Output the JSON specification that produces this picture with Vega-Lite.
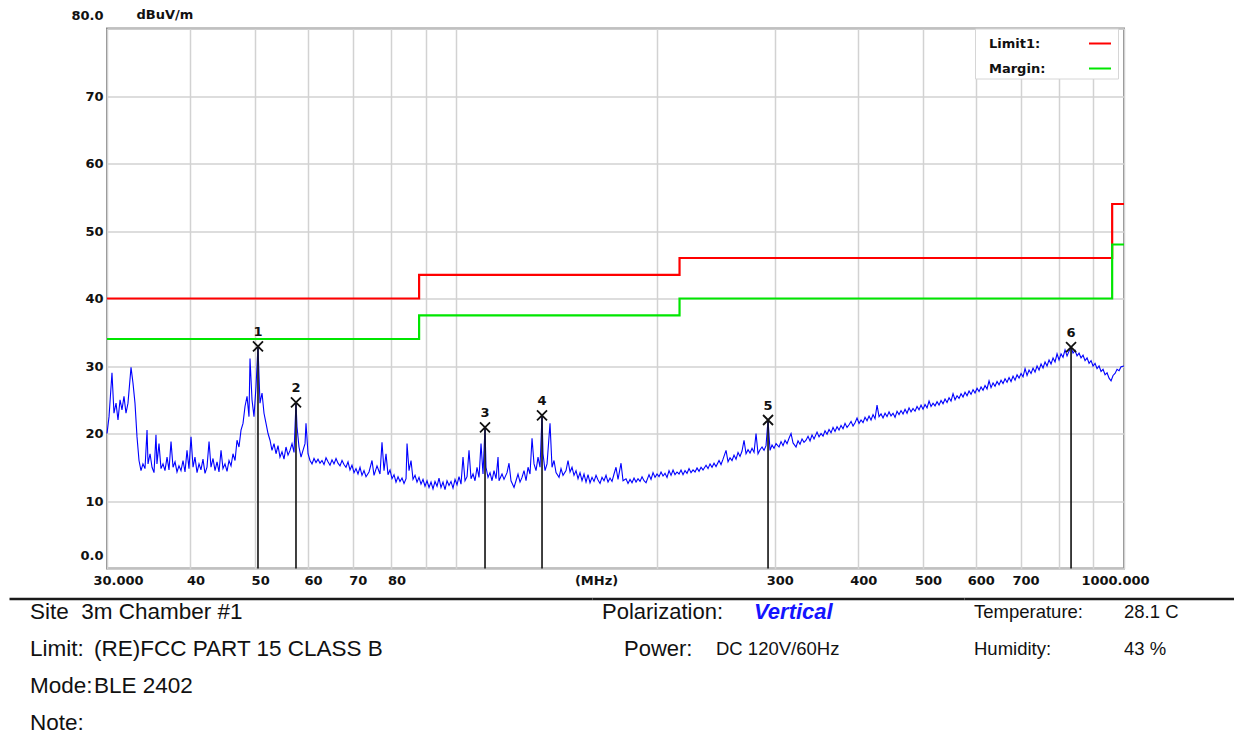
{
  "$schema": "https://vega.github.io/schema/vega-lite/v6.json",
  "padding": {"left": 9, "top": 7.5, "right": 0, "bottom": 0},
  "background": "white",
  "config": {"view": {"stroke": null}, "font": "Liberation Sans"},
  "datasets": {
    "trace": [
{"f":30.00,"v":20.0},{"f":30.21,"v":22.5},{"f":30.52,"v":29.0},{"f":30.73,"v":23.0},{"f":30.95,"v":24.5},{"f":31.16,"v":22.0},{"f":31.38,"v":25.0},{"f":31.59,"v":23.5},{"f":31.81,"v":25.5},{"f":32.03,"v":23.0},{"f":32.25,"v":24.5},{"f":32.59,"v":29.8},{"f":32.81,"v":27.5},{"f":33.04,"v":24.5},{"f":33.27,"v":19.5},{"f":33.50,"v":16.0},{"f":33.73,"v":14.5},{"f":33.96,"v":15.5},{"f":34.20,"v":14.8},{"f":34.44,"v":20.5},{"f":34.56,"v":15.5},{"f":34.80,"v":17.0},{"f":35.04,"v":15.0},{"f":35.28,"v":14.2},{"f":35.52,"v":19.8},{"f":35.64,"v":15.5},{"f":35.89,"v":18.5},{"f":36.14,"v":14.8},{"f":36.39,"v":15.5},{"f":36.64,"v":14.5},{"f":36.90,"v":16.5},{"f":37.15,"v":14.6},{"f":37.41,"v":18.8},{"f":37.67,"v":15.0},{"f":37.93,"v":15.8},{"f":38.19,"v":14.3},{"f":38.45,"v":15.2},{"f":38.72,"v":14.5},{"f":38.99,"v":16.0},{"f":39.26,"v":14.3},{"f":39.53,"v":17.5},{"f":39.80,"v":14.8},{"f":40.08,"v":19.5},{"f":40.36,"v":15.0},{"f":40.63,"v":16.5},{"f":40.92,"v":14.2},{"f":41.20,"v":15.5},{"f":41.48,"v":14.6},{"f":41.77,"v":16.2},{"f":42.06,"v":14.1},{"f":42.35,"v":15.0},{"f":42.65,"v":18.8},{"f":42.94,"v":15.0},{"f":43.24,"v":16.3},{"f":43.54,"v":14.5},{"f":43.84,"v":15.8},{"f":44.14,"v":14.3},{"f":44.45,"v":17.5},{"f":44.75,"v":14.8},{"f":45.06,"v":15.5},{"f":45.38,"v":14.4},{"f":45.69,"v":16.0},{"f":46.01,"v":15.2},{"f":46.32,"v":17.0},{"f":46.65,"v":16.0},{"f":46.97,"v":19.0},{"f":47.29,"v":18.0},{"f":47.62,"v":20.5},{"f":47.95,"v":21.5},{"f":48.28,"v":24.0},{"f":48.62,"v":25.5},{"f":48.95,"v":22.5},{"f":49.12,"v":31.1},{"f":49.46,"v":25.0},{"f":49.80,"v":22.5},{"f":50.15,"v":27.0},{"f":50.49,"v":32.9},{"f":50.84,"v":24.5},{"f":51.20,"v":26.0},{"f":51.55,"v":23.0},{"f":51.91,"v":21.5},{"f":52.27,"v":20.0},{"f":52.63,"v":19.0},{"f":52.99,"v":17.5},{"f":53.36,"v":18.5},{"f":53.73,"v":17.0},{"f":54.10,"v":18.2},{"f":54.47,"v":16.5},{"f":54.85,"v":17.3},{"f":55.23,"v":16.2},{"f":55.61,"v":18.0},{"f":56.00,"v":16.8},{"f":56.39,"v":17.5},{"f":56.78,"v":18.5},{"f":57.17,"v":17.2},{"f":57.56,"v":24.6},{"f":57.76,"v":21.0},{"f":58.16,"v":18.0},{"f":58.57,"v":16.5},{"f":58.97,"v":17.5},{"f":59.38,"v":18.5},{"f":59.58,"v":21.5},{"f":60.00,"v":17.0},{"f":60.41,"v":16.0},{"f":60.83,"v":15.5},{"f":61.25,"v":16.3},{"f":61.67,"v":15.7},{"f":62.10,"v":16.2},{"f":62.53,"v":15.6},{"f":62.96,"v":16.0},{"f":63.40,"v":15.4},{"f":63.84,"v":16.4},{"f":64.28,"v":15.8},{"f":64.72,"v":15.3},{"f":65.17,"v":16.1},{"f":65.62,"v":15.5},{"f":66.08,"v":16.3},{"f":66.53,"v":15.6},{"f":66.99,"v":15.2},{"f":67.46,"v":16.0},{"f":67.92,"v":15.4},{"f":68.39,"v":15.0},{"f":68.87,"v":15.8},{"f":69.34,"v":14.6},{"f":69.82,"v":15.3},{"f":70.31,"v":14.2},{"f":70.79,"v":14.8},{"f":71.28,"v":14.0},{"f":71.78,"v":15.0},{"f":72.27,"v":13.8},{"f":72.77,"v":14.5},{"f":73.28,"v":13.6},{"f":74.04,"v":14.3},{"f":74.81,"v":16.0},{"f":75.33,"v":13.8},{"f":76.11,"v":15.2},{"f":76.90,"v":14.0},{"f":77.43,"v":18.7},{"f":77.97,"v":14.5},{"f":78.51,"v":17.0},{"f":79.05,"v":13.9},{"f":79.60,"v":14.6},{"f":80.15,"v":13.3},{"f":80.71,"v":13.9},{"f":81.26,"v":12.8},{"f":81.83,"v":13.6},{"f":82.39,"v":12.9},{"f":82.96,"v":13.4},{"f":83.54,"v":12.6},{"f":84.12,"v":13.3},{"f":84.41,"v":18.5},{"f":84.99,"v":14.5},{"f":85.58,"v":16.0},{"f":86.17,"v":13.2},{"f":86.77,"v":13.8},{"f":87.37,"v":12.8},{"f":87.97,"v":13.5},{"f":88.58,"v":12.5},{"f":89.19,"v":13.2},{"f":89.81,"v":12.2},{"f":90.43,"v":13.0},{"f":91.06,"v":12.0},{"f":91.69,"v":12.8},{"f":92.32,"v":11.8},{"f":92.96,"v":12.9},{"f":93.61,"v":12.2},{"f":94.25,"v":13.4},{"f":94.90,"v":12.0},{"f":95.56,"v":12.8},{"f":96.22,"v":11.7},{"f":96.89,"v":13.0},{"f":97.56,"v":12.3},{"f":98.23,"v":12.9},{"f":98.91,"v":11.9},{"f":99.60,"v":13.2},{"f":100.29,"v":12.4},{"f":100.98,"v":13.6},{"f":101.68,"v":12.5},{"f":102.38,"v":16.5},{"f":103.09,"v":13.0},{"f":103.81,"v":13.6},{"f":104.52,"v":17.5},{"f":105.25,"v":13.3},{"f":105.98,"v":14.0},{"f":106.71,"v":13.0},{"f":107.45,"v":15.0},{"f":108.19,"v":13.5},{"f":108.94,"v":18.5},{"f":109.69,"v":14.0},{"f":110.45,"v":20.9},{"f":110.83,"v":15.0},{"f":111.60,"v":13.5},{"f":112.37,"v":14.2},{"f":113.15,"v":13.0},{"f":113.93,"v":14.5},{"f":114.72,"v":13.3},{"f":115.52,"v":16.5},{"f":115.92,"v":13.0},{"f":117.12,"v":14.0},{"f":117.93,"v":13.2},{"f":119.16,"v":14.2},{"f":119.98,"v":15.6},{"f":120.81,"v":13.0},{"f":122.07,"v":12.0},{"f":122.91,"v":13.0},{"f":123.76,"v":14.0},{"f":124.62,"v":12.8},{"f":125.48,"v":13.5},{"f":126.35,"v":14.5},{"f":127.23,"v":13.0},{"f":128.11,"v":15.0},{"f":128.99,"v":14.0},{"f":129.89,"v":19.3},{"f":130.78,"v":15.5},{"f":131.69,"v":14.5},{"f":132.60,"v":16.5},{"f":133.52,"v":15.0},{"f":134.44,"v":22.7},{"f":134.91,"v":17.0},{"f":135.84,"v":14.5},{"f":136.78,"v":15.5},{"f":138.20,"v":21.5},{"f":139.16,"v":15.0},{"f":140.12,"v":16.0},{"f":141.09,"v":14.2},{"f":142.56,"v":13.5},{"f":143.54,"v":14.8},{"f":144.54,"v":13.8},{"f":146.04,"v":14.5},{"f":147.05,"v":16.0},{"f":148.07,"v":14.3},{"f":149.09,"v":15.0},{"f":150.12,"v":13.8},{"f":151.16,"v":14.5},{"f":152.21,"v":13.3},{"f":153.26,"v":14.2},{"f":154.32,"v":13.0},{"f":155.39,"v":14.0},{"f":156.47,"v":12.8},{"f":157.55,"v":13.9},{"f":158.64,"v":12.7},{"f":159.74,"v":13.5},{"f":160.84,"v":12.9},{"f":161.96,"v":13.8},{"f":163.08,"v":13.1},{"f":164.21,"v":12.6},{"f":165.34,"v":13.5},{"f":166.49,"v":13.0},{"f":167.64,"v":13.8},{"f":168.80,"v":12.8},{"f":169.97,"v":13.4},{"f":171.14,"v":12.9},{"f":172.33,"v":14.0},{"f":173.52,"v":15.0},{"f":174.72,"v":13.2},{"f":176.54,"v":15.6},{"f":177.76,"v":13.0},{"f":179.61,"v":13.3},{"f":180.85,"v":12.6},{"f":182.10,"v":13.2},{"f":183.36,"v":12.7},{"f":184.63,"v":13.4},{"f":185.91,"v":12.8},{"f":187.19,"v":13.3},{"f":188.49,"v":12.9},{"f":189.80,"v":13.6},{"f":191.11,"v":13.0},{"f":192.43,"v":12.7},{"f":194.43,"v":13.9},{"f":195.78,"v":13.2},{"f":197.13,"v":14.2},{"f":198.50,"v":13.5},{"f":199.87,"v":14.0},{"f":201.25,"v":13.6},{"f":202.65,"v":14.3},{"f":204.05,"v":13.7},{"f":205.46,"v":14.1},{"f":206.88,"v":13.5},{"f":208.31,"v":14.5},{"f":209.76,"v":13.8},{"f":211.21,"v":14.6},{"f":212.67,"v":13.9},{"f":214.14,"v":14.3},{"f":215.62,"v":14.0},{"f":217.11,"v":14.6},{"f":218.62,"v":13.9},{"f":220.13,"v":14.5},{"f":221.65,"v":14.1},{"f":223.19,"v":14.8},{"f":224.73,"v":14.2},{"f":226.29,"v":14.6},{"f":227.85,"v":14.3},{"f":229.43,"v":14.9},{"f":231.02,"v":14.4},{"f":232.62,"v":15.0},{"f":234.22,"v":14.6},{"f":236.66,"v":15.3},{"f":238.30,"v":14.8},{"f":239.95,"v":15.5},{"f":241.61,"v":15.0},{"f":243.28,"v":15.6},{"f":244.96,"v":15.1},{"f":247.51,"v":16.0},{"f":249.22,"v":15.4},{"f":250.95,"v":16.2},{"f":253.56,"v":17.5},{"f":255.31,"v":15.8},{"f":257.08,"v":16.4},{"f":258.86,"v":16.0},{"f":260.65,"v":16.8},{"f":262.45,"v":16.2},{"f":264.27,"v":17.2},{"f":266.10,"v":16.6},{"f":267.94,"v":17.4},{"f":269.79,"v":19.0},{"f":271.66,"v":17.0},{"f":273.54,"v":17.6},{"f":275.43,"v":17.1},{"f":277.34,"v":17.8},{"f":279.26,"v":17.2},{"f":281.19,"v":20.0},{"f":283.13,"v":17.0},{"f":285.09,"v":17.6},{"f":287.07,"v":18.0},{"f":289.05,"v":17.5},{"f":291.05,"v":18.2},{"f":293.07,"v":22.0},{"f":295.09,"v":17.5},{"f":297.14,"v":18.3},{"f":299.19,"v":17.8},{"f":301.26,"v":18.5},{"f":304.40,"v":18.0},{"f":306.50,"v":18.8},{"f":308.62,"v":18.2},{"f":310.76,"v":19.0},{"f":312.91,"v":18.5},{"f":315.07,"v":19.3},{"f":317.26,"v":20.0},{"f":319.45,"v":18.6},{"f":322.77,"v":18.0},{"f":325.00,"v":18.9},{"f":327.25,"v":18.4},{"f":329.52,"v":19.2},{"f":331.80,"v":18.7},{"f":334.09,"v":19.0},{"f":336.41,"v":19.6},{"f":338.74,"v":18.9},{"f":341.08,"v":19.8},{"f":343.44,"v":19.2},{"f":347.01,"v":20.2},{"f":349.42,"v":19.5},{"f":351.83,"v":20.0},{"f":354.27,"v":19.6},{"f":356.72,"v":20.4},{"f":359.19,"v":19.9},{"f":361.67,"v":20.6},{"f":364.18,"v":20.1},{"f":366.69,"v":20.9},{"f":369.23,"v":20.3},{"f":371.79,"v":21.0},{"f":374.36,"v":20.5},{"f":376.95,"v":21.2},{"f":379.56,"v":20.7},{"f":382.19,"v":21.5},{"f":384.83,"v":20.9},{"f":387.50,"v":21.3},{"f":390.18,"v":21.8},{"f":392.88,"v":21.1},{"f":395.60,"v":21.6},{"f":398.33,"v":22.3},{"f":401.09,"v":21.5},{"f":403.87,"v":22.0},{"f":406.66,"v":21.6},{"f":409.47,"v":22.4},{"f":412.31,"v":21.9},{"f":415.16,"v":22.6},{"f":418.03,"v":22.0},{"f":420.93,"v":22.8},{"f":423.84,"v":22.2},{"f":426.77,"v":24.2},{"f":429.73,"v":22.5},{"f":432.70,"v":22.9},{"f":435.69,"v":22.3},{"f":438.71,"v":23.0},{"f":441.75,"v":22.5},{"f":444.80,"v":23.2},{"f":447.88,"v":22.6},{"f":450.98,"v":23.0},{"f":454.10,"v":22.4},{"f":457.24,"v":23.3},{"f":460.41,"v":22.8},{"f":463.59,"v":23.4},{"f":466.80,"v":22.9},{"f":470.03,"v":23.6},{"f":473.28,"v":23.0},{"f":476.56,"v":23.8},{"f":479.85,"v":23.2},{"f":483.17,"v":23.7},{"f":486.52,"v":23.3},{"f":489.88,"v":24.0},{"f":493.27,"v":23.5},{"f":496.68,"v":24.2},{"f":500.12,"v":23.6},{"f":503.58,"v":24.3},{"f":507.07,"v":23.8},{"f":510.58,"v":24.8},{"f":514.11,"v":24.0},{"f":517.67,"v":24.5},{"f":521.25,"v":24.1},{"f":524.86,"v":24.7},{"f":528.49,"v":24.2},{"f":532.15,"v":24.9},{"f":535.83,"v":24.4},{"f":539.54,"v":25.1},{"f":543.27,"v":24.6},{"f":547.03,"v":25.3},{"f":550.82,"v":24.8},{"f":554.62,"v":25.9},{"f":558.47,"v":25.0},{"f":562.33,"v":25.6},{"f":566.22,"v":25.2},{"f":570.14,"v":25.9},{"f":574.08,"v":25.4},{"f":578.06,"v":26.1},{"f":582.06,"v":25.6},{"f":586.09,"v":26.3},{"f":590.14,"v":25.8},{"f":594.23,"v":26.5},{"f":598.34,"v":26.0},{"f":602.48,"v":26.7},{"f":606.65,"v":26.2},{"f":610.85,"v":26.9},{"f":615.07,"v":26.4},{"f":619.33,"v":27.1},{"f":623.62,"v":26.6},{"f":627.94,"v":27.8},{"f":632.28,"v":26.8},{"f":636.65,"v":27.5},{"f":641.06,"v":27.0},{"f":645.50,"v":27.7},{"f":649.97,"v":27.2},{"f":654.47,"v":27.9},{"f":658.99,"v":27.4},{"f":663.55,"v":28.1},{"f":668.15,"v":27.6},{"f":672.77,"v":28.3},{"f":677.43,"v":27.7},{"f":682.11,"v":28.5},{"f":686.84,"v":27.9},{"f":691.59,"v":28.7},{"f":696.38,"v":28.2},{"f":701.20,"v":28.9},{"f":706.04,"v":28.4},{"f":710.93,"v":29.6},{"f":715.85,"v":28.6},{"f":720.80,"v":29.4},{"f":725.79,"v":28.9},{"f":730.81,"v":29.7},{"f":735.87,"v":29.1},{"f":740.97,"v":30.0},{"f":746.10,"v":29.4},{"f":751.26,"v":30.3},{"f":756.46,"v":29.7},{"f":761.69,"v":30.6},{"f":766.96,"v":30.0},{"f":772.27,"v":30.9},{"f":777.61,"v":30.3},{"f":782.99,"v":31.2},{"f":788.41,"v":30.6},{"f":793.87,"v":31.8},{"f":799.36,"v":30.9},{"f":804.90,"v":31.8},{"f":810.46,"v":31.3},{"f":816.07,"v":32.4},{"f":821.72,"v":31.5},{"f":827.41,"v":32.2},{"f":833.13,"v":32.8},{"f":838.89,"v":31.9},{"f":844.70,"v":32.3},{"f":850.55,"v":31.5},{"f":856.44,"v":31.9},{"f":862.36,"v":31.2},{"f":868.33,"v":31.6},{"f":874.34,"v":30.8},{"f":880.39,"v":31.2},{"f":886.48,"v":30.4},{"f":892.62,"v":30.8},{"f":898.79,"v":30.0},{"f":905.01,"v":30.4},{"f":911.28,"v":29.6},{"f":917.59,"v":30.0},{"f":923.94,"v":29.2},{"f":930.33,"v":29.5},{"f":936.77,"v":28.7},{"f":943.24,"v":29.0},{"f":949.77,"v":28.2},{"f":956.34,"v":27.8},{"f":962.95,"v":28.6},{"f":969.62,"v":28.9},{"f":976.33,"v":29.5},{"f":983.09,"v":29.3},{"f":989.89,"v":29.9},{"f":1000,"v":30.0}
    ],
    "limits": [
      {"series": "Limit1:", "f": 30, "v": 40},
      {"series": "Limit1:", "f": 88, "v": 43.5},
      {"series": "Limit1:", "f": 216, "v": 46},
      {"series": "Limit1:", "f": 960, "v": 54},
      {"series": "Limit1:", "f": 1000, "v": 54},
      {"series": "Margin:", "f": 30, "v": 34},
      {"series": "Margin:", "f": 88, "v": 37.5},
      {"series": "Margin:", "f": 216, "v": 40},
      {"series": "Margin:", "f": 960, "v": 48},
      {"series": "Margin:", "f": 1000, "v": 48}
    ],
    "markers": [
      {"n": "1", "f": 50.49, "v": 32.9},
      {"n": "2", "f": 57.56, "v": 24.6},
      {"n": "3", "f": 110.45, "v": 20.9},
      {"n": "4", "f": 134.44, "v": 22.7},
      {"n": "5", "f": 293.07, "v": 22.0},
      {"n": "6", "f": 833.13, "v": 32.8}
    ],
    "footerLeft": [
      {"line": 1, "part": "label", "text": "Site\u00a0 3m Chamber #1"},
      {"line": 2, "part": "label", "text": "Limit:"},
      {"line": 2, "part": "value", "text": "(RE)FCC PART 15 CLASS B"},
      {"line": 3, "part": "label", "text": "Mode:"},
      {"line": 3, "part": "value", "text": "BLE 2402"},
      {"line": 4, "part": "label", "text": "Note:"}
    ],
    "footerMid": [
      {"line": 1, "part": "label", "text": "Polarization:"},
      {"line": 1, "part": "value", "text": "Vertical"},
      {"line": 2, "part": "label", "text": "Power:"},
      {"line": 2, "part": "value", "text": "DC 120V/60Hz"}
    ],
    "footerRight": [
      {"line": 1, "part": "label", "text": "Temperature:"},
      {"line": 1, "part": "value", "text": "28.1 C"},
      {"line": 2, "part": "label", "text": "Humidity:"},
      {"line": 2, "part": "value", "text": "43 %"}
    ]
  },
  "bounds": "full",
  "spacing": 10,
  "vconcat": [
    {
      "bounds": "flush",
      "spacing": 0,
      "hconcat": [
        {
          "width": 98,
          "height": 540,
          "data": {"values": [{}]},
          "mark": {"type": "text"},
          "encoding": {"text": {"value": ""}}
        },
        {
          "width": 1017,
          "height": 540,
          "view": {"stroke": "#8a8a8a", "strokeWidth": 2},
          "layer": [
            {
              "data": {"name": "limits"},
              "mark": {"type": "line", "interpolate": "step-after", "strokeWidth": 2.2},
              "encoding": {
                "x": {
                  "field": "f", "type": "quantitative", "title": "(MHz)",
                  "scale": {"type": "log", "domain": [30, 1000], "nice": false},
                  "axis": {
                    "values": [30, 40, 50, 60, 70, 80, 90, 100, 200, 300, 400, 500, 600, 700, 800, 900, 1000],
                    "labelExpr": "datum.value == 30 ? '30.000' : datum.value == 1000 ? '1000.000' : (datum.value == 90 || datum.value == 100 || datum.value == 200 || datum.value == 800 || datum.value == 900) ? '' : format(datum.value, 'd')",
                    "grid": true, "gridColor": "#d2d2d2", "gridWidth": 1.5,
                    "ticks": false, "domain": false,
                    "labelFlush": false, "labelOverlap": false, "labelBound": false,
                    "labelFont": "DejaVu Sans", "labelFontWeight": "bold", "labelFontSize": 13, "labelColor": "#111111",
                    "labelPadding": 6,
                    "labelOffset": {"condition": [{"test": "datum.value == 30", "value": 11}, {"test": "datum.value == 1000", "value": -9}], "value": 5},
                    "titleFont": "DejaVu Sans", "titleFontWeight": "bold", "titleFontSize": 13, "titleColor": "#111111",
                    "titleX": 489, "titleY": 6, "titleBaseline": "top", "titleAlign": "center"
                  }
                },
                "y": {
                  "field": "v", "type": "quantitative", "title": "dBuV/m",
                  "scale": {"domain": [0, 80], "nice": false},
                  "axis": {
                    "values": [0, 10, 20, 30, 40, 50, 60, 70, 80],
                    "labelExpr": "datum.value == 0 ? '0.0' : datum.value == 80 ? '80.0' : format(datum.value, 'd')",
                    "grid": true, "gridColor": "#d2d2d2", "gridWidth": 1.5,
                    "ticks": false, "domain": false,
                    "labelFlush": false, "labelOverlap": false, "labelBound": false,
                    "labelFont": "DejaVu Sans", "labelFontWeight": "bold", "labelFontSize": 13, "labelColor": "#111111",
                    "labelPadding": 4,
                    "labelOffset": {"condition": {"test": "datum.value == 0 || datum.value == 80", "value": -13}, "value": 0},
                    "titleFont": "DejaVu Sans", "titleFontWeight": "bold", "titleFontSize": 13, "titleColor": "#111111",
                    "titleAngle": 0, "titleX": 29, "titleY": -14, "titleAlign": "left", "titleBaseline": "middle"
                  }
                },
                "color": {
                  "field": "series", "type": "nominal",
                  "scale": {"domain": ["Limit1:", "Margin:"], "range": ["#ff0000", "#00e600"]},
                  "legend": {
                    "title": null, "orient": "none", "legendX": 966, "legendY": 0,
                    "padding": 3, "symbolType": "stroke", "symbolSize": 484, "symbolStrokeWidth": 2,
                    "rowPadding": 6,
                    "symbolOffset": 110, "labelOffset": -123,
                    "labelFont": "DejaVu Sans", "labelFontWeight": "bold", "labelFontSize": 13, "labelColor": "#111111",
                    "strokeColor": "#d6d6d6", "fillColor": "#ffffff"
                  }
                }
              }
            },
            {
              "data": {"name": "trace"},
              "mark": {"type": "line", "color": "#0000ff", "strokeWidth": 1.1},
              "encoding": {
                "x": {"field": "f", "type": "quantitative", "title": "(MHz)", "scale": {"type": "log", "domain": [30, 1000], "nice": false}},
                "y": {"field": "v", "type": "quantitative", "title": "dBuV/m", "scale": {"domain": [0, 80], "nice": false}}
              }
            },
            {
              "data": {"name": "markers"},
              "mark": {"type": "rule", "color": "#111111", "strokeWidth": 1.6},
              "encoding": {
                "x": {"field": "f", "type": "quantitative", "title": "(MHz)", "scale": {"type": "log", "domain": [30, 1000], "nice": false}},
                "y": {"field": "v", "type": "quantitative", "title": "dBuV/m", "scale": {"domain": [0, 80], "nice": false}},
                "y2": {"datum": 0}
              }
            },
            {
              "data": {"name": "markers"},
              "mark": {"type": "point", "shape": "M-1,-1L1,1M-1,1L1,-1", "size": 100, "filled": false, "stroke": "#111111", "strokeWidth": 1.8, "opacity": 1},
              "encoding": {
                "x": {"field": "f", "type": "quantitative", "title": "(MHz)", "scale": {"type": "log", "domain": [30, 1000], "nice": false}},
                "y": {"field": "v", "type": "quantitative", "title": "dBuV/m", "scale": {"domain": [0, 80], "nice": false}}
              }
            },
            {
              "data": {"name": "markers"},
              "mark": {"type": "text", "dy": -14, "font": "DejaVu Sans", "fontWeight": "bold", "fontSize": 13, "color": "#111111", "baseline": "middle", "align": "center"},
              "encoding": {
                "x": {"field": "f", "type": "quantitative", "title": "(MHz)", "scale": {"type": "log", "domain": [30, 1000], "nice": false}},
                "y": {"field": "v", "type": "quantitative", "title": "dBuV/m", "scale": {"domain": [0, 80], "nice": false}},
                "text": {"field": "n"}
              }
            }
          ]
        }
      ]
    },
    {
      "bounds": "flush",
      "spacing": 0,
      "hconcat": [
        {
          "width": 583,
          "height": 138,
          "data": {"name": "footerLeft"},
          "mark": {"type": "text", "align": "left", "baseline": "middle", "fontSize": 22.5, "font": "Liberation Sans", "color": "#111111"},
          "encoding": {
            "x": {"field": "part", "type": "nominal", "scale": {"type": "point", "domain": ["label", "value", "s3", "s4", "s5", "s6", "s7", "s8", "s9"], "padding": 0.5547, "align": 0.29577},
                  "axis": {"orient": "top", "labels": false, "ticks": false, "grid": false, "title": null, "domainColor": "#1a1a1a", "domainWidth": 2.5}},
            "y": {"field": "line", "type": "ordinal", "scale": {"type": "point", "domain": [1, 2, 3, 4], "padding": 0.38}, "axis": null},
            "text": {"field": "text"}
          }
        },
        {
          "width": 372,
          "height": 138,
          "data": {"name": "footerMid"},
          "encoding": {
            "x": {"field": "part", "type": "nominal", "scale": {"type": "point", "domain": ["label", "value"], "padding": 0.7237, "align": 0.04545},
                  "axis": {"orient": "top", "labels": false, "ticks": false, "grid": false, "title": null, "domainColor": "#1a1a1a", "domainWidth": 2.5}},
            "y": {"field": "line", "type": "ordinal", "scale": {"type": "point", "domain": [1, 2, 3, 4], "padding": 0.38}, "axis": null},
            "text": {"field": "text"}
          },
          "layer": [
            {
              "transform": [{"filter": "datum.line == 1 && datum.part == 'label'"}],
              "mark": {"type": "text", "align": "left", "baseline": "middle", "fontSize": 22, "font": "Liberation Sans", "color": "#111111"}
            },
            {
              "transform": [{"filter": "datum.line == 1 && datum.part == 'value'"}],
              "mark": {"type": "text", "align": "left", "baseline": "middle", "fontSize": 22, "font": "Liberation Sans", "fontWeight": "bold", "fontStyle": "italic", "color": "#1414ff"}
            },
            {
              "transform": [{"filter": "datum.line == 2 && datum.part == 'label'"}],
              "mark": {"type": "text", "align": "left", "baseline": "middle", "fontSize": 22, "font": "Liberation Sans", "color": "#111111", "dx": 22}
            },
            {
              "transform": [{"filter": "datum.line == 2 && datum.part == 'value'"}],
              "mark": {"type": "text", "align": "left", "baseline": "middle", "fontSize": 18.5, "font": "Liberation Sans", "color": "#111111", "dx": -38}
            }
          ]
        },
        {
          "width": 270,
          "height": 138,
          "data": {"name": "footerRight"},
          "mark": {"type": "text", "align": "left", "baseline": "middle", "fontSize": 18.5, "font": "Liberation Sans", "color": "#111111"},
          "encoding": {
            "x": {"field": "part", "type": "nominal", "scale": {"type": "point", "domain": ["label", "value"], "padding": 0.4, "align": 0.08333},
                  "axis": {"orient": "top", "labels": false, "ticks": false, "grid": false, "title": null, "domainColor": "#1a1a1a", "domainWidth": 2.5}},
            "y": {"field": "line", "type": "ordinal", "scale": {"type": "point", "domain": [1, 2, 3, 4], "padding": 0.38}, "axis": null},
            "text": {"field": "text"}
          }
        }
      ]
    }
  ]
}
